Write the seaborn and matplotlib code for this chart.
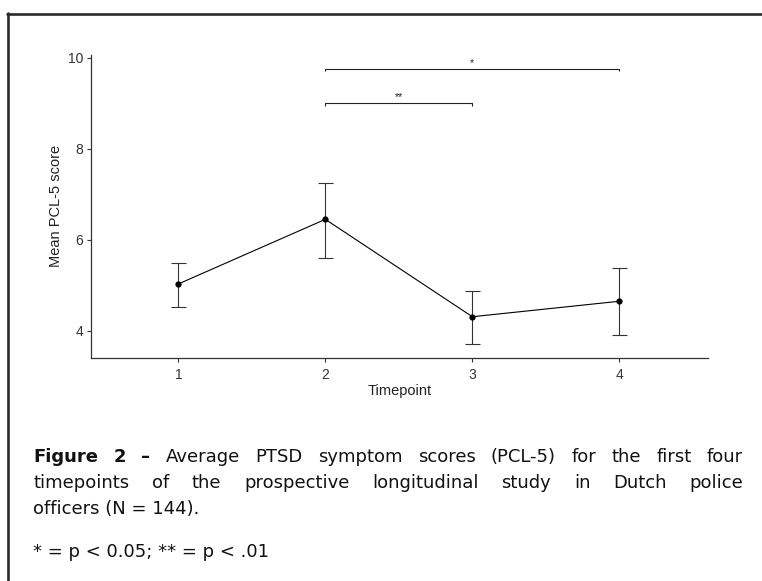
import numpy as np
import pandas as pd
import seaborn as sns
import matplotlib
matplotlib.use("Agg")
import matplotlib.pyplot as plt
from matplotlib.lines import Line2D

# ---------------- data ----------------
timepoints = [1, 2, 3, 4]
means = [5.03, 6.45, 4.31, 4.65]
ci_upper = [5.50, 7.25, 4.87, 5.37]
ci_lower = [4.53, 5.61, 3.70, 3.91]
y_ticks = [4, 6, 8, 10]
x_tick_labels = ["1", "2", "3", "4"]
sig_from = [2, 2]
sig_to = [4, 3]
sig_labels = ["*", "**"]
sig_heights = [9.75, 9.0]

caption_lines = [
    "Figure 2 – Average PTSD symptom scores (PCL-5) for the first four",
    "timepoints of the prospective longitudinal study in Dutch police",
]
caption_last = "officers (N = 144)."
footnote = "* = p < 0.05; ** = p < .01"

# ---------------- style ----------------
sns.set_theme(style="ticks")
plt.rcParams["font.family"] = ["Liberation Sans", "DejaVu Sans"]

W, H = 762, 581
fig = plt.figure(figsize=(W / 100, H / 100), dpi=100)

ax_l, ax_r, ax_t, ax_b = 91, 708.3, 55, 357.7
ax = fig.add_axes([ax_l / W, 1 - ax_b / H, (ax_r - ax_l) / W, (ax_b - ax_t) / H])

df = pd.DataFrame({"Timepoint": timepoints, "Mean": means,
                   "lo": ci_lower, "hi": ci_upper})

ax.errorbar(df["Timepoint"], df["Mean"],
            yerr=[df["Mean"] - df["lo"], df["hi"] - df["Mean"]],
            fmt="none", ecolor="#333333", elinewidth=0.8,
            capsize=5.4, capthick=0.8, zorder=2)
sns.lineplot(data=df, x="Timepoint", y="Mean", ax=ax, color="black",
             linewidth=0.8, marker="o", markersize=4.5,
             markeredgewidth=0, markerfacecolor="black", zorder=3)

# significance brackets
for a, b, lab, h in zip(sig_from, sig_to, sig_labels, sig_heights):
    ax.plot([a, a, b, b], [h - 0.05, h, h, h - 0.05], color="#222222",
            lw=0.8, solid_capstyle="butt")
    ax.text((a + b) / 2, h + 0.02, lab, ha="center", va="bottom",
            fontsize=7.5, color="#222222")

ax.set_xlim(0.406, 4.605)
ax.set_ylim(3.41, 10.06)
ax.set_xticks(timepoints)
ax.set_xticklabels(x_tick_labels)
ax.set_yticks(y_ticks)

for s in ["top", "right"]:
    ax.spines[s].set_visible(False)
for s in ["left", "bottom"]:
    ax.spines[s].set_color("#333333")
    ax.spines[s].set_linewidth(0.9)
ax.tick_params(direction="out", length=3, width=0.8, color="#333333",
               labelsize=10, labelcolor="#333333")
ax.tick_params(axis="y", pad=2.5)
ax.tick_params(axis="x", pad=4.5)

ax.set_xlabel("Timepoint", fontsize=10.5, color="#222222")
ax.set_ylabel("Mean PCL-5 score", fontsize=10.5, color="#222222")
ax.xaxis.set_label_coords(0.5, (ax_b - 384) / (ax_b - ax_t))
ax.yaxis.set_label_coords((63 - ax_l) / (ax_r - ax_l), 0.5)

# ---------------- frame ----------------
fig.add_artist(Line2D([7 / W, 1.0], [1 - 13.5 / H, 1 - 13.5 / H],
                      transform=fig.transFigure, color="#2a2a2a", lw=1.9))
fig.add_artist(Line2D([7.5 / W, 7.5 / W], [0, 1 - 13 / H],
                      transform=fig.transFigure, color="#2a2a2a", lw=1.9))

# ---------------- caption ----------------
cap_font = ["DejaVu Sans"]
cap_size = 13
x0, x1 = 33, 743
baselines = [462, 488, 514]
renderer = fig.canvas.get_renderer()


def justify(words, y, bold_n=0):
    texts = []
    for i, w in enumerate(words):
        t = fig.text(0, 1 - y / H, w, fontsize=cap_size, family=cap_font,
                     fontweight="bold" if i < bold_n else "normal",
                     va="baseline", ha="left", color="#111111")
        texts.append(t)
    widths = [t.get_window_extent(renderer).width for t in texts]
    gap = (x1 - x0 - sum(widths)) / (len(words) - 1)
    x = x0
    for t, wdt in zip(texts, widths):
        t.set_x(x / W)
        x += wdt + gap


justify(caption_lines[0].split(" "), baselines[0], bold_n=3)
justify(caption_lines[1].split(" "), baselines[1])
fig.text(x0 / W, 1 - baselines[2] / H, caption_last, fontsize=cap_size,
         family=cap_font, va="baseline", ha="left", color="#111111")
fig.text(x0 / W, 1 - 557 / H, footnote, fontsize=cap_size,
         family=cap_font, va="baseline", ha="left", color="#111111")

fig.savefig("out.png", dpi=100)
